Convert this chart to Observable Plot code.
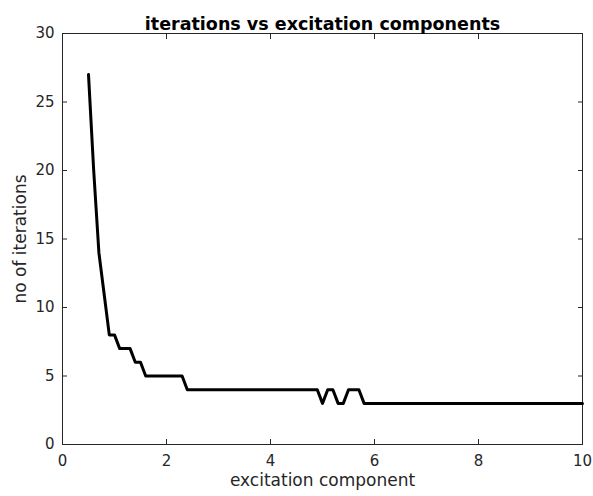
<!DOCTYPE html>
<html>
<head>
<meta charset="utf-8">
<script src="https://cdn.jsdelivr.net/npm/d3@7"></script>
<script src="https://cdn.jsdelivr.net/npm/@observablehq/plot@0.6"></script>
<style>
  body { margin: 0; background: #fff; }
</style>
</head>
<body>
<div id="chart"></div>
<script>
// Excitation component values where the iteration count changes (flat runs in between)
const component  = [0.5, 0.6, 0.7, 0.8, 0.9, 1.0, 1.1, 1.3, 1.4, 1.5, 1.6, 2.3, 2.4, 4.9, 5.0, 5.1, 5.2, 5.3, 5.4, 5.5, 5.7, 5.8, 10];
const iterations = [27,  20,  14,  11,  8,   8,   7,   7,   6,   6,   5,   5,   4,   4,   3,   4,   4,   3,   3,   4,   4,   3,   3];

const xTicks = [0, 2, 4, 6, 8, 10];
const yTicks = [0, 5, 10, 15, 20, 25, 30];

const titleText = "iterations vs excitation components";
const xLabel = "excitation component";
const yLabel = "no of iterations";

const data = component.map((x, i) => ({x, y: iterations[i]}));
const ink = "#262626";

const chart = Plot.plot({
  width: 593,
  height: 496,
  marginLeft: 62,
  marginRight: 11,
  marginTop: 33,
  marginBottom: 52,
  style: {fontFamily: "DejaVu Sans", fontSize: "15px", color: ink, background: "#fff"},
  x: {domain: [0, 10], ticks: xTicks},
  y: {domain: [0, 30], ticks: yTicks},
  marks: [
    // tick labels
    Plot.axisX({anchor: "bottom", ticks: xTicks, tickSize: 0, tickPadding: 11, label: null, fill: ink}),
    Plot.axisY({anchor: "left", ticks: yTicks, tickSize: 0, tickPadding: 8, label: null, fill: ink}),
    // inward ticks on all four sides
    Plot.axisX({anchor: "bottom", ticks: xTicks, tickSize: -5, text: null, label: null, stroke: ink}),
    Plot.axisX({anchor: "top", ticks: xTicks, tickSize: -5, text: null, label: null, stroke: ink}),
    Plot.axisY({anchor: "left", ticks: yTicks, tickSize: -5, text: null, label: null, stroke: ink}),
    Plot.axisY({anchor: "right", ticks: yTicks, tickSize: -5, text: null, label: null, stroke: ink}),
    Plot.frame({stroke: ink, strokeWidth: 1}),
    Plot.line(data, {x: "x", y: "y", stroke: "#000", strokeWidth: 3, strokeLinejoin: "round"}),
    // title and axis labels
    Plot.text([titleText], {frameAnchor: "top", dy: -16, fontWeight: "bold", fontSize: 17.5, fill: "#000"}),
    Plot.text([xLabel], {frameAnchor: "bottom", dy: 41, fontSize: 17, fill: ink}),
    Plot.text([yLabel], {frameAnchor: "left", dx: -42, rotate: -90, textAnchor: "middle", fontSize: 17, fill: ink})
  ]
});

document.getElementById("chart").appendChild(chart);
</script>
</body>
</html>
